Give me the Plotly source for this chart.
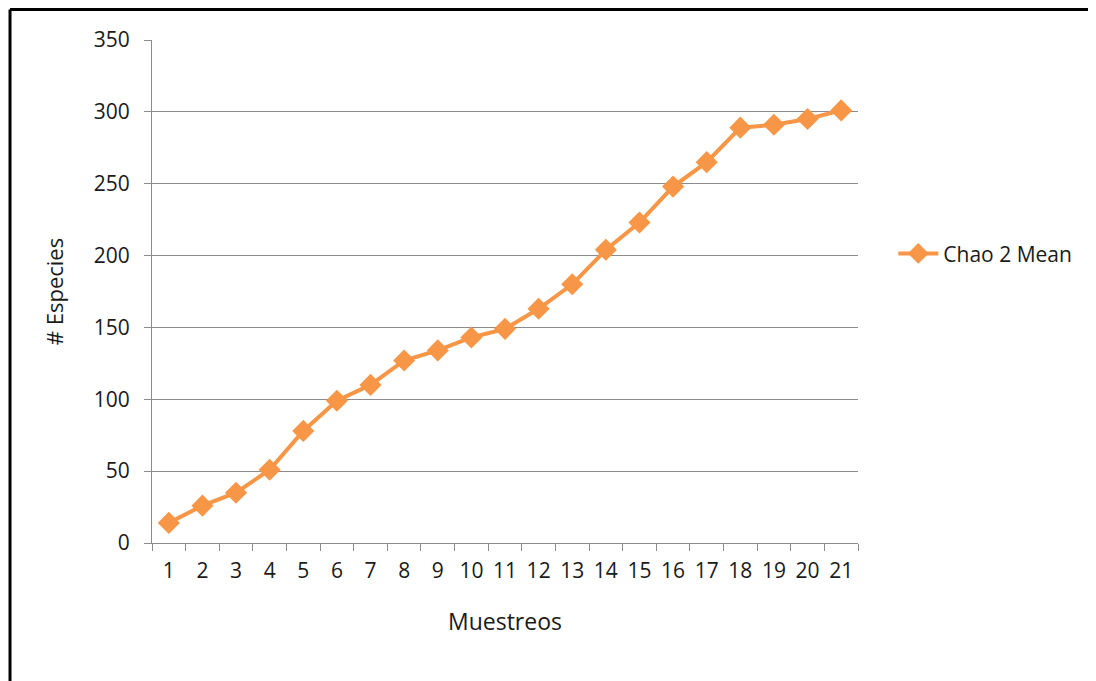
import plotly.graph_objects as go

# Muestreos (sampling events) and Chao 2 mean species estimates
muestreos = list(range(1, 22))
chao2_mean = [14, 26, 35, 51, 78, 99, 110, 127, 134, 143, 149, 163,
              180, 204, 223, 248, 265, 289, 291, 295, 301]
y_ticks = [0, 50, 100, 150, 200, 250, 300, 350]

orange = "#F79646"
grey = "#8C8C8C"
font_name = "Open Sans"

fig = go.Figure()
fig.add_trace(go.Scatter(
    x=muestreos, y=chao2_mean, name="Chao 2 Mean",
    mode="lines+markers",
    line=dict(color=orange, width=4),
    marker=dict(symbol="diamond", size=17, color=orange),
))

# page body has an 8px margin, so the figure is shifted by 8px
fig.update_layout(
    width=1088, height=673,
    margin=dict(l=144, r=238, t=32, b=138),
    paper_bgcolor="white", plot_bgcolor="white",
    font=dict(family=font_name, size=21, color="#1a1a1a"),
    showlegend=True,
    legend=dict(x=1.05, y=0.575, xanchor="left", yanchor="middle",
                font=dict(size=21), itemwidth=40),
)

fig.update_xaxes(
    range=[0.5, 21.5], tickmode="array", tickvals=muestreos,
    ticks="", showgrid=False, showline=True, linecolor=grey, linewidth=1,
    ticklabelstandoff=9,
    minor=dict(tickvals=[i + 0.5 for i in range(0, 22)], ticks="outside",
               ticklen=7, tickcolor=grey, showgrid=False),
    title=dict(text="Muestreos", standoff=30, font=dict(size=23)),
    zeroline=False,
)
fig.update_yaxes(
    range=[0, 350], tickmode="array", tickvals=y_ticks,
    ticks="outside", ticklen=7, tickcolor=grey,
    ticklabelstandoff=10,
    showgrid=True, gridcolor=grey, gridwidth=1,
    showline=True, linecolor=grey, linewidth=1,
    title=dict(text="# Especies", standoff=24, font=dict(size=22)),
    zeroline=False,
)

# frame around the chart (left and top edges visible)
fig.add_shape(type="line", xref="paper", yref="paper",
              x0=-0.2011, x1=-0.2011, y0=1.0606, y1=-0.3,
              line=dict(color="black", width=3))
fig.add_shape(type="line", xref="paper", yref="paper",
              x0=-0.2011, x1=1.36, y0=1.0606, y1=1.0606,
              line=dict(color="black", width=3))

fig.write_html("out.html")
